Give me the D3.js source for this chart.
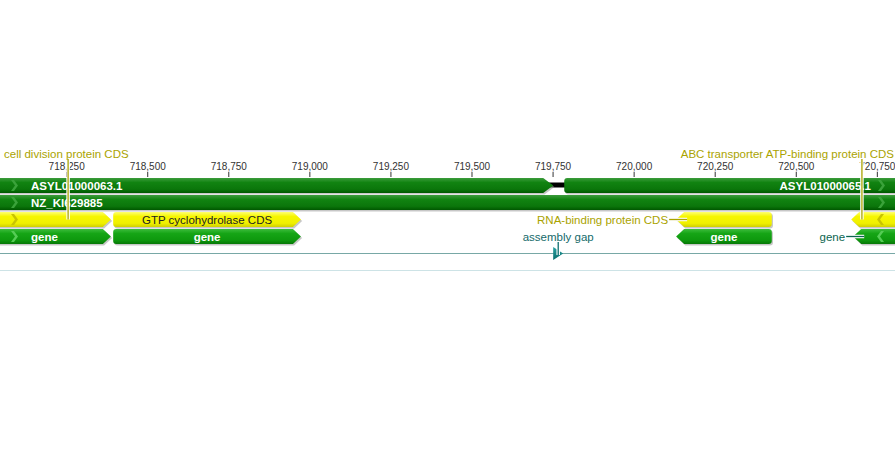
<!DOCTYPE html>
<html>
<head>
<meta charset="utf-8">
<script src="https://cdn.jsdelivr.net/npm/d3@7"></script>
<style>
  body { margin: 0; background: #fff; }
  svg { display: block; }
</style>
</head>
<body>
<div id="chart"></div>
<script>
// sequence window shown (bp)
const viewRange = [718046, 720806];
const tickValues = [718250, 718500, 718750, 719000, 719250, 719500, 719750, 720000, 720250, 720500, 720750];

const contigNames = ['ASYL01000063.1', 'ASYL01000065.1'];
const contigStarts = [717400, 719786];
const contigEnds = [719752, 721600];

const scaffoldName = 'NZ_KI629885';
const scaffoldStart = 717000;
const scaffoldEnd = 722000;

const cdsNames = ['cell division protein CDS', 'GTP cyclohydrolase CDS', 'RNA-binding protein CDS', 'ABC transporter ATP-binding protein CDS'];
const cdsStarts = [717700, 718395, 720131, 720671];
const cdsEnds = [718388, 718974, 720426, 721400];
const cdsStrands = ['+', '+', '-', '-'];
const cdsLabelModes = ['above-left', 'inside', 'left', 'above-right'];
const cdsLeaderAt = [718256, null, null, 720704];

const geneNames = ['gene', 'gene', 'gene', 'gene'];
const geneStarts = [717700, 718395, 720131, 720677];
const geneEnds = [718388, 718974, 720426, 721400];
const geneStrands = ['+', '+', '-', '-'];
const geneLabelModes = ['inside', 'inside', 'inside', 'left'];

const gapName = 'assembly gap';
const gapStart = 719752;
const gapEnd = 719786;

const width = 895;
const height = 455;
const font = '"Liberation Sans", Arial, sans-serif';
const fs = '11.5px';

const x = d3.scaleLinear().domain(viewRange).range([0, width]);

const svg = d3.select('#chart')
              .append('svg')
              .attr('width', width)
              .attr('height', height);

const defs = svg.append('defs');
const grad = (id, stops) => {
    const g = defs.append('linearGradient')
                  .attr('id', id)
                  .attr('x1', 0).attr('y1', 0)
                  .attr('x2', 0).attr('y2', 1);
    stops.forEach(s => g.append('stop').attr('offset', s[0]).attr('stop-color', s[1]));
};
grad('contigGrad', [[0, '#3c9c3c'], [0.3, '#118311'], [0.75, '#0b760b'], [1, '#005800']]);
grad('geneGrad', [[0, '#3cbc3c'], [0.3, '#16a516'], [0.75, '#0e980e'], [1, '#067806']]);
grad('cdsGrad', [[0, '#ffff70'], [0.3, '#f6f600'], [0.75, '#f0f000'], [1, '#cfcf00']]);
grad('gapGrad', [[0, '#2aa0a0'], [1, '#0a6e6e']]);

// ruler
const axis = d3.axisTop(x)
               .tickValues(tickValues)
               .tickSize(5)
               .tickFormat(d3.format(','));
const axisG = svg.append('g')
                 .attr('transform', 'translate(0, 177)')
                 .call(axis);
axisG.select('.domain').remove();
axisG.selectAll('line').attr('stroke', '#333');
axisG.selectAll('text')
     .attr('y', -7)
     .style('font', `10px ${font}`)
     .attr('fill', '#333');

const trackH = 15;
const headLen = 8;

const clipX = v => Math.max(-20, Math.min(width + 20, v));

const featurePath = (x0, x1, y, h, strand, head) => {
    const r = 3;
    const a = Math.min(head, x1 - x0);
    if (strand === '+') {
        return `M${x0 + r},${y} L${x1 - a},${y} L${x1},${y + h / 2} L${x1 - a},${y + h} ` +
               `L${x0 + r},${y + h} Q${x0},${y + h} ${x0},${y + h - r} L${x0},${y + r} Q${x0},${y} ${x0 + r},${y} Z`;
    }
    return `M${x1 - r},${y} L${x0 + a},${y} L${x0},${y + h / 2} L${x0 + a},${y + h} ` +
           `L${x1 - r},${y + h} Q${x1},${y + h} ${x1},${y + h - r} L${x1},${y + r} Q${x1},${y} ${x1 - r},${y} Z`;
};

const chevron = (g, cx, y, strand, color) => {
    const d = strand === '+' ? 1 : -1;
    const pts = [[cx - 3 * d, y + 2], [cx, y + 2], [cx + 4 * d, y + 7.5], [cx, y + 13], [cx - 3 * d, y + 13], [cx + 1 * d, y + 7.5]];
    g.append('polygon')
     .attr('points', pts.map(p => p.join(',')).join(' '))
     .attr('fill', color);
};

const drawFeatures = (rows, y, fill, chevColor, head) => {
    const g = svg.append('g');
    rows.forEach(f => {
        const x0 = clipX(x(f.start));
        const x1 = clipX(x(f.end));
        g.append('path')
         .attr('d', featurePath(x0, x1, y, trackH, f.strand, head))
         .attr('transform', 'translate(1.2, 1.5)')
         .attr('fill', '#999')
         .attr('opacity', 0.55);
        g.append('path')
         .attr('d', featurePath(x0, x1, y, trackH, f.strand, head))
         .attr('fill', fill);
        if (x(f.start) < 0) chevron(g, 14, y, f.strand, chevColor);
        if (x(f.end) > width) chevron(g, 881, y, f.strand, chevColor);
    });
    return g;
};

// assembly gap connector in the contig row
svg.append('rect')
   .attr('x', x(gapStart) - 10)
   .attr('y', 182.5)
   .attr('width', x(gapEnd) - x(gapStart) + 12)
   .attr('height', 5)
   .attr('fill', '#000');

// contigs
const contigRows = contigNames.map((n, i) => ({ name: n, start: contigStarts[i], end: contigEnds[i], strand: '+' }));
const contigG = drawFeatures(contigRows, 178, 'url(#contigGrad)', '#3aa23a', 10);
contigG.append('text')
       .attr('x', 31).attr('y', 189.5)
       .style('font', `bold ${fs} ${font}`)
       .attr('fill', '#fff')
       .text(contigRows[0].name);
contigG.append('text')
       .attr('x', 871).attr('y', 189.5)
       .attr('text-anchor', 'end')
       .style('font', `bold ${fs} ${font}`)
       .attr('fill', '#fff')
       .text(contigRows[1].name);

// scaffold
const scaffoldG = drawFeatures([{ name: scaffoldName, start: scaffoldStart, end: scaffoldEnd, strand: '+' }],
                               195, 'url(#contigGrad)', '#3aa23a', 10);
scaffoldG.append('text')
         .attr('x', 31).attr('y', 206.5)
         .style('font', `bold ${fs} ${font}`)
         .attr('fill', '#fff')
         .text(scaffoldName);

const leader = (pts, color) => {
    const line = d3.line();
    svg.append('path').attr('d', line(pts)).attr('fill', 'none').attr('stroke', '#fff').attr('stroke-width', 3.5);
    svg.append('path').attr('d', line(pts)).attr('fill', 'none').attr('stroke', color).attr('stroke-width', 1.3);
};

const labelTrack = (rows, modes, y, insideColor, insideWeight, outsideColor, leaders) => {
    rows.forEach((f, i) => {
        const x0 = Math.max(0, x(f.start));
        const x1 = Math.min(width, x(f.end));
        const mid = y + trackH / 2;
        if (modes[i] === 'inside') {
            const tx = x(f.start) < 0 ? 31 : (x0 + x1) / 2;
            svg.append('text')
               .attr('x', tx).attr('y', y + 11.5)
               .attr('text-anchor', x(f.start) < 0 ? 'start' : 'middle')
               .style('font', `${insideWeight} ${fs} ${font}`)
               .attr('fill', insideColor)
               .text(f.name);
        } else if (modes[i] === 'left') {
            leader([[x0 - 7, mid], [x0 + 11, mid]], outsideColor);
            svg.append('text')
               .attr('x', x0 - 8).attr('y', mid + 4)
               .attr('text-anchor', 'end')
               .style('font', `${fs} ${font}`)
               .attr('fill', outsideColor)
               .text(f.name);
        } else {
            const lx = x(leaders[i]);
            leader([[lx, 159], [lx, mid]], outsideColor);
            svg.append('text')
               .attr('x', modes[i] === 'above-left' ? 4 : 894)
               .attr('y', 158)
               .attr('text-anchor', modes[i] === 'above-left' ? 'start' : 'end')
               .style('font', `${fs} ${font}`)
               .attr('fill', outsideColor)
               .text(f.name);
        }
    });
};

// CDS
const cdsRows = cdsNames.map((n, i) => ({ name: n, start: cdsStarts[i], end: cdsEnds[i], strand: cdsStrands[i] }));
drawFeatures(cdsRows, 212, 'url(#cdsGrad)', '#c9c400', headLen);

// genes
const geneRows = geneNames.map((n, i) => ({ name: n, start: geneStarts[i], end: geneEnds[i], strand: geneStrands[i] }));
drawFeatures(geneRows, 229, 'url(#geneGrad)', '#55cc55', headLen);

labelTrack(cdsRows, cdsLabelModes, 212, '#222', 'normal', '#aaa300', cdsLeaderAt);
labelTrack(geneRows, geneLabelModes, 229, '#fff', 'bold', '#0c6650', []);

// gap track
svg.append('line')
   .attr('x1', 0).attr('x2', width)
   .attr('y1', 253.5).attr('y2', 253.5)
   .attr('stroke', '#78a8a6').attr('stroke-width', 1);
svg.append('line')
   .attr('x1', 0).attr('x2', width)
   .attr('y1', 270.5).attr('y2', 270.5)
   .attr('stroke', '#cde3e6').attr('stroke-width', 1);

const gx = x(gapStart);
svg.append('path')
   .attr('d', `M${gx},247 L${gx + 10},253.5 L${gx},260 Z`)
   .attr('fill', 'url(#gapGrad)');
leader([[gx + 5, 242], [gx + 5, 255]], '#0d6d6d');
svg.append('text')
   .attr('x', gx + 5).attr('y', 241)
   .attr('text-anchor', 'middle')
   .style('font', `${fs} ${font}`)
   .attr('fill', '#146a6a')
   .text(gapName);
</script>
</body>
</html>
